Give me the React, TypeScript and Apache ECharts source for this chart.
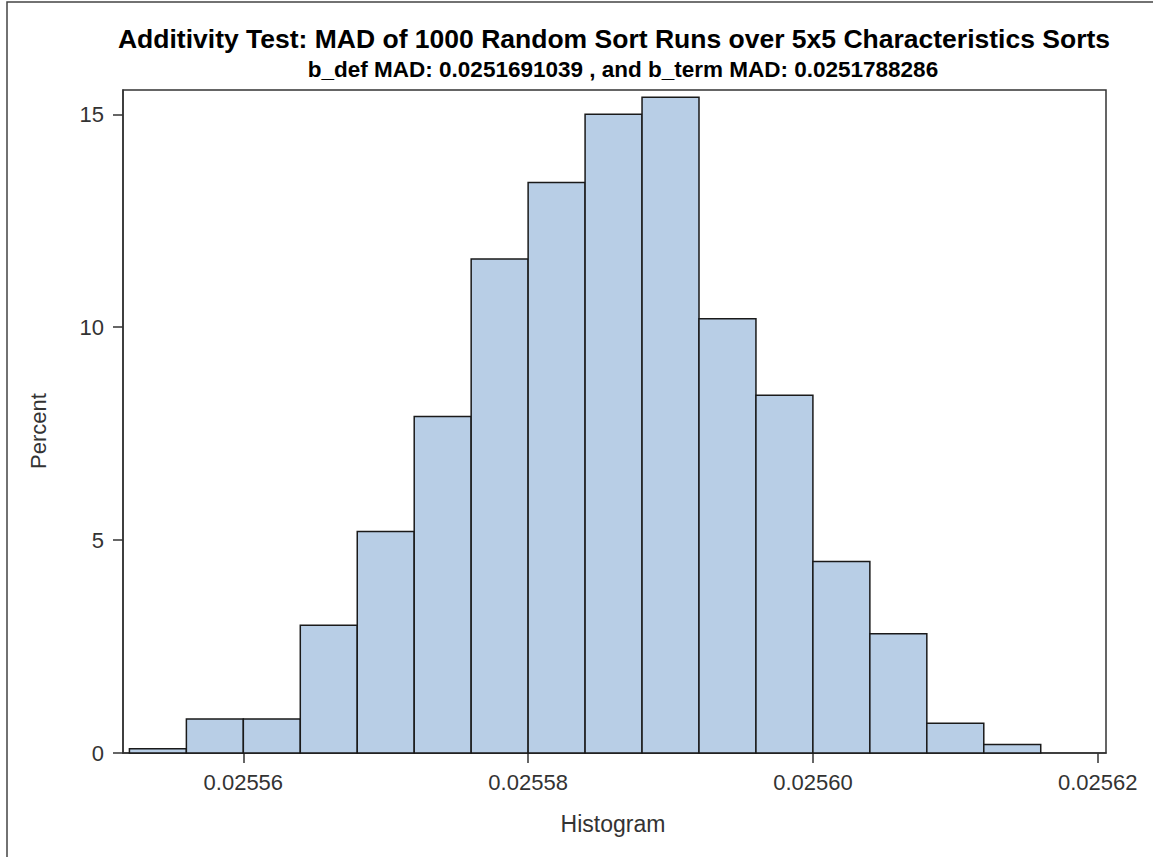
import React, { useEffect, useRef } from "react";
import * as echarts from "echarts";

const titleText = "Additivity Test: MAD of 1000 Random Sort Runs over 5x5 Characteristics Sorts";
const subtitleText = "b_def MAD: 0.0251691039 , and b_term MAD: 0.0251788286";
const xAxisName = "Histogram";
const yAxisName = "Percent";

const binEdges = [
  0.025552, 0.025556, 0.02556, 0.025564, 0.025568, 0.025572, 0.025576, 0.02558,
  0.025584, 0.025588, 0.025592, 0.025596, 0.0256, 0.025604, 0.025608, 0.025612, 0.025616,
];
const percents = [0.1, 0.8, 0.8, 3.0, 5.2, 7.9, 11.6, 13.4, 15.0, 15.4, 10.2, 8.4, 4.5, 2.8, 0.7, 0.2];

const xTicks = [0.02556, 0.02558, 0.0256, 0.02562];
const yTicks = [0, 5, 10, 15];

const FONT = "'Liberation Sans', Arial, sans-serif";

export default function App() {
  const ref = useRef<HTMLDivElement>(null);
  useEffect(() => {
    if (!ref.current) return;
    const chart = echarts.init(ref.current, null, { renderer: "svg" });
    const data = percents.map((p, i) => [binEdges[i], binEdges[i + 1], p]);
    chart.setOption({
      animation: false,
      backgroundColor: "#ffffff",
      grid: {
        left: 123,
        right: 47,
        top: 90,
        bottom: 104,
        show: true,
        borderColor: "#333",
        borderWidth: 1.5,
        backgroundColor: "transparent",
      },
      xAxis: {
        type: "value",
        min: 0.025551549,
        max: 0.025620583,
        splitLine: { show: false },
        axisLine: { show: true, onZero: false, lineStyle: { color: "#333", width: 1.5 } },
        axisTick: {
          show: true,
          length: 10,
          inside: false,
          lineStyle: { color: "#333", width: 1.5 },
          customValues: xTicks,
        },
        axisLabel: {
          show: true,
          margin: 18,
          color: "#333",
          fontFamily: FONT,
          fontSize: 22,
          customValues: xTicks,
          formatter: (v: number) => v.toFixed(5),
        },
      },
      yAxis: {
        type: "value",
        min: 0,
        max: 15.57,
        splitLine: { show: false },
        axisLine: { show: true, lineStyle: { color: "#333", width: 1.5 } },
        axisTick: {
          show: true,
          length: 10,
          lineStyle: { color: "#333", width: 1.5 },
          customValues: yTicks,
        },
        axisLabel: {
          show: true,
          margin: 19,
          color: "#333",
          fontFamily: FONT,
          fontSize: 22,
          customValues: yTicks,
          formatter: (v: number) => String(v),
        },
      },
      series: [
        {
          type: "custom",
          data,
          encode: { x: [0, 1], y: 2 },
          renderItem: (params: any, api: any) => {
            const topLeft = api.coord([api.value(0), api.value(2)]);
            const bottomRight = api.coord([api.value(1), 0]);
            return {
              type: "rect",
              shape: {
                x: topLeft[0],
                y: topLeft[1],
                width: bottomRight[0] - topLeft[0],
                height: bottomRight[1] - topLeft[1],
              },
              style: { fill: "#B8CEE6", stroke: "#1a1a1a", lineWidth: 1.5 },
            };
          },
        },
      ],
      graphic: [
        {
          type: "rect",
          silent: true,
          shape: { x: 7, y: 2, width: 1200, height: 900 },
          style: { fill: "none", stroke: "#444", lineWidth: 1.5 },
        },
        {
          type: "text",
          x: 614,
          y: 39,
          style: {
            text: titleText,
            fill: "#000",
            font: `bold 26.5px ${FONT}`,
            textAlign: "center",
            textVerticalAlign: "middle",
          },
        },
        {
          type: "text",
          x: 623,
          y: 69,
          style: {
            text: subtitleText,
            fill: "#000",
            font: `bold 22.5px ${FONT}`,
            textAlign: "center",
            textVerticalAlign: "middle",
          },
        },
        {
          type: "text",
          x: 38,
          y: 431,
          rotation: Math.PI / 2,
          style: {
            text: yAxisName,
            fill: "#333",
            font: `22px ${FONT}`,
            textAlign: "center",
            textVerticalAlign: "middle",
          },
        },
        {
          type: "text",
          x: 613,
          y: 824,
          style: {
            text: xAxisName,
            fill: "#333",
            font: `23px ${FONT}`,
            textAlign: "center",
            textVerticalAlign: "middle",
          },
        },
      ],
    });
    return () => chart.dispose();
  }, []);
  return (
    <div
      ref={ref}
      style={{ position: "absolute", left: 0, top: 0, width: 1153, height: 857 }}
    />
  );
}
